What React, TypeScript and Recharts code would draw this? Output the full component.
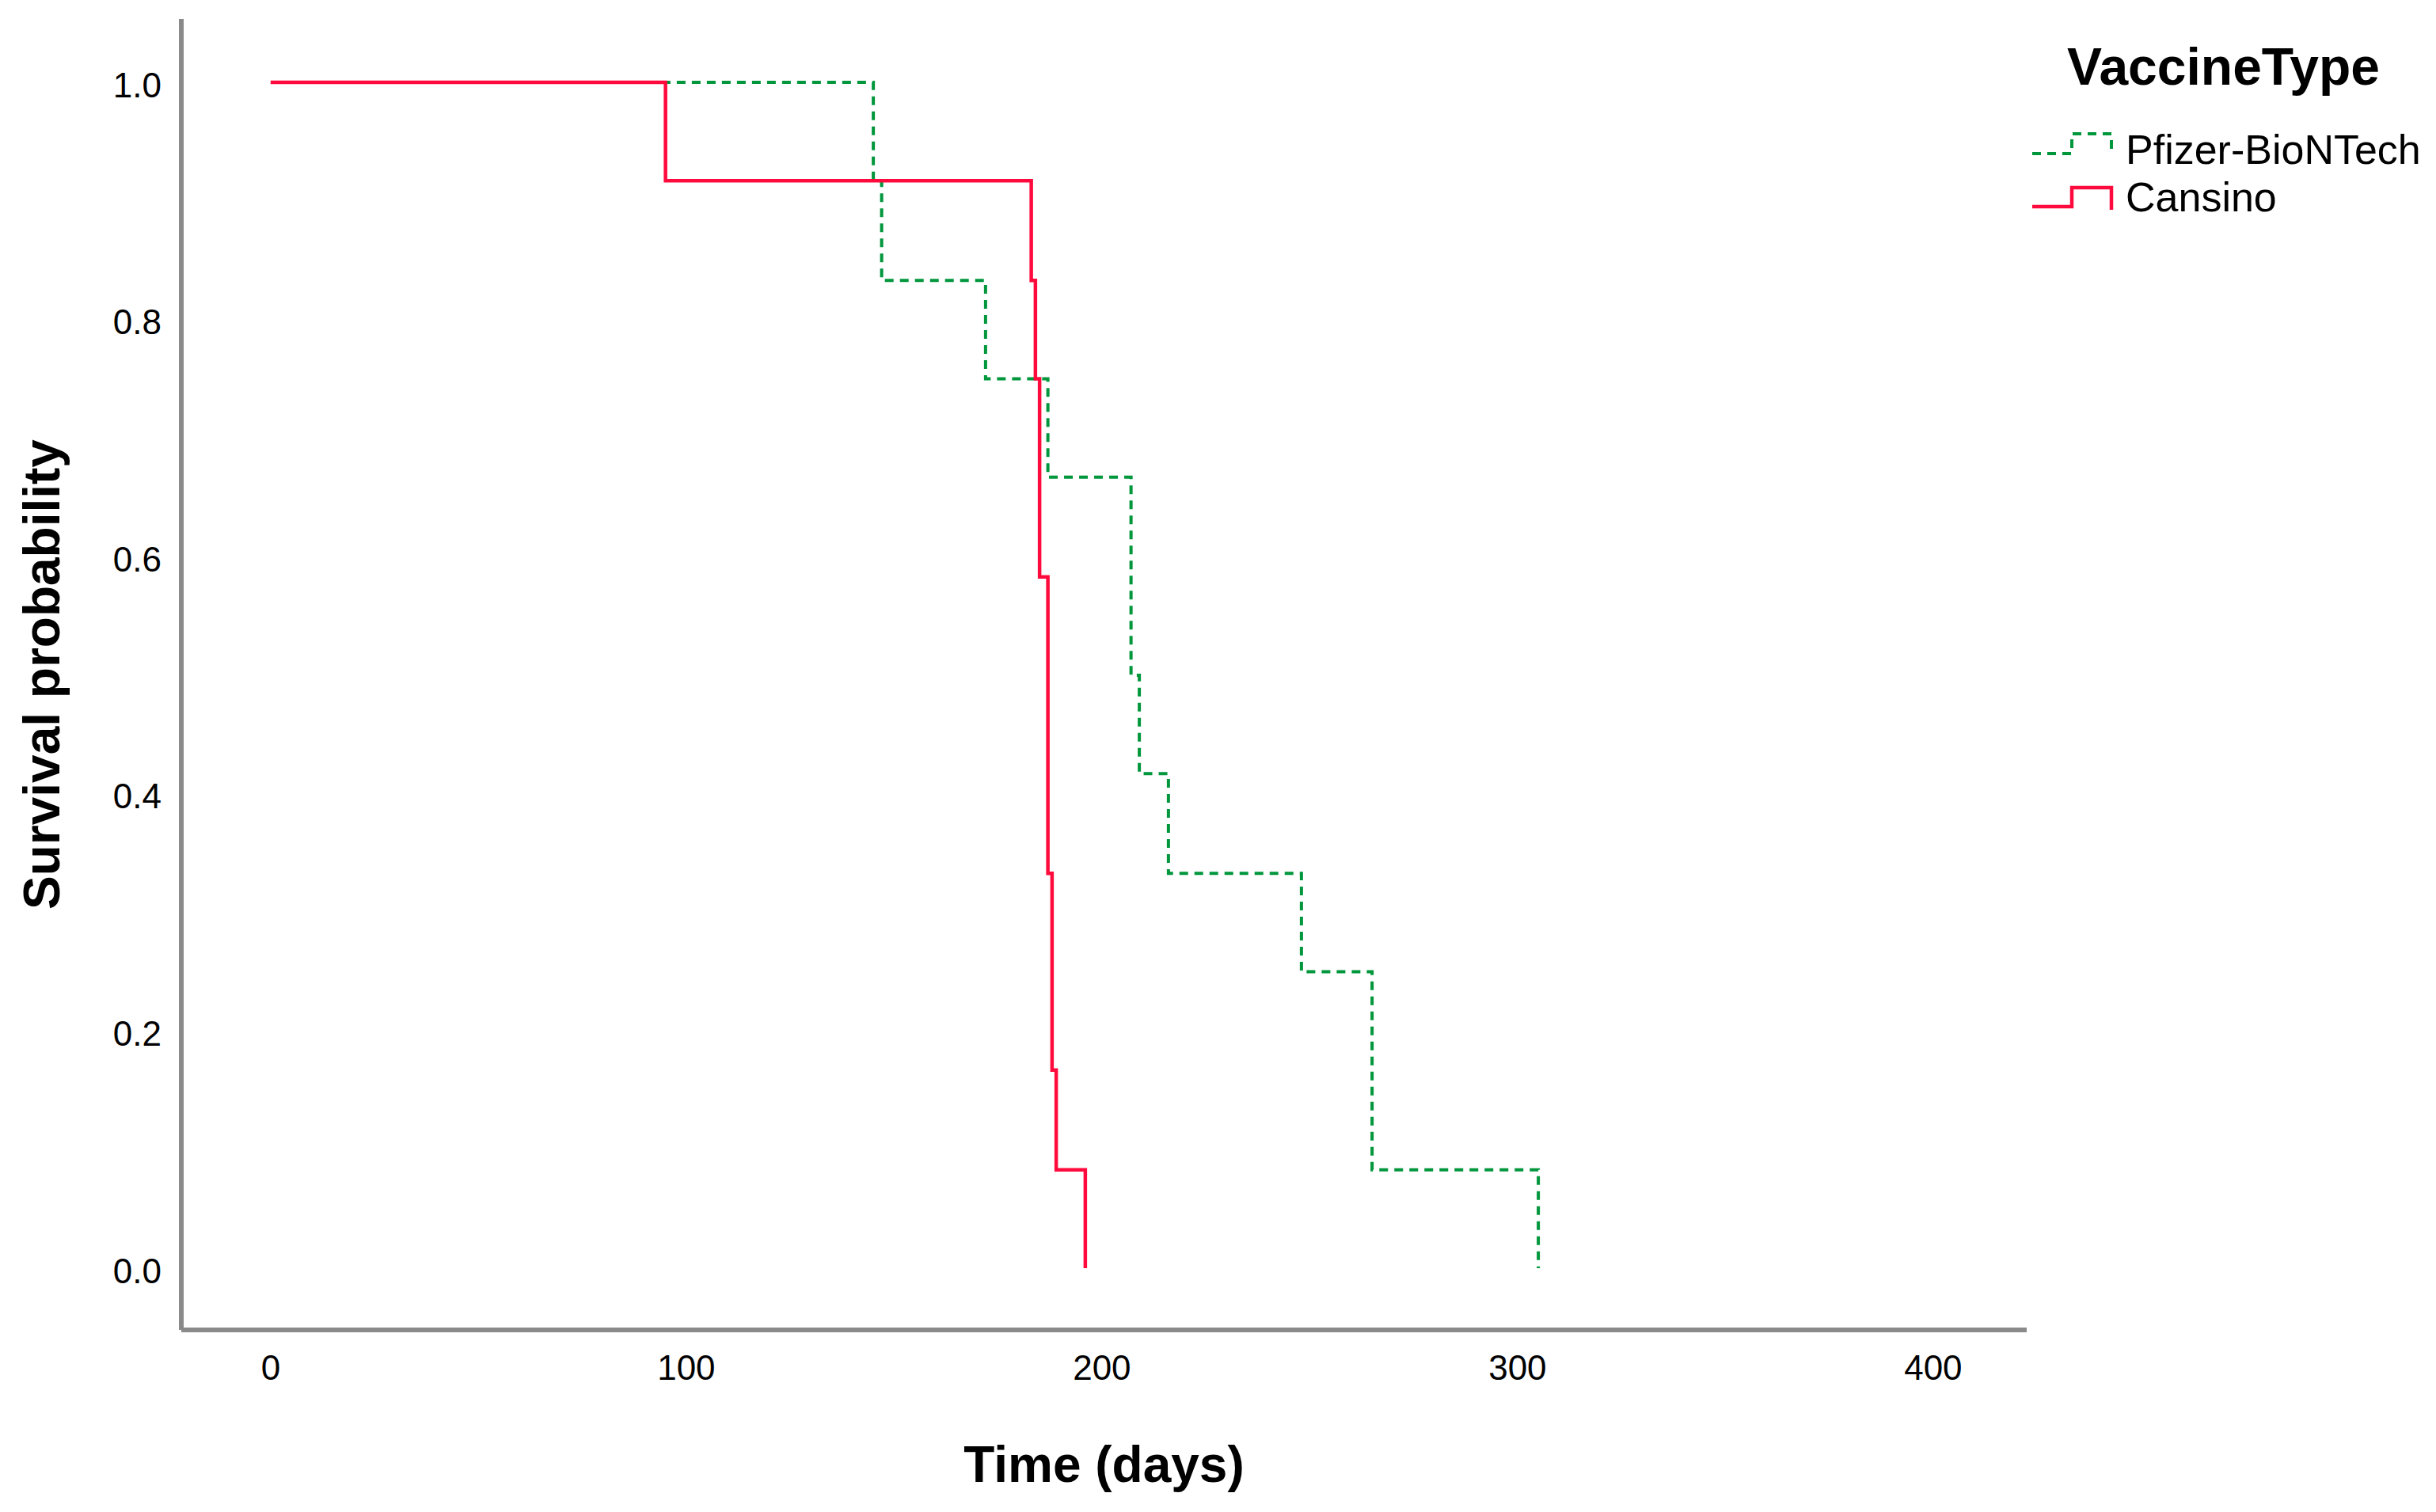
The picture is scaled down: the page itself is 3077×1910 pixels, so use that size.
import React from 'react';
import { LineChart, Line, XAxis, YAxis, Legend, Label } from 'recharts';

// ---- data ----
const pfizerDays = [0, 145, 147, 172, 187, 207, 209, 216, 248, 265, 305];
const pfizerSurvival = [1.0, 0.917, 0.833, 0.75, 0.667, 0.5, 0.417, 0.333, 0.25, 0.083, 0.0];
const cansinoDays = [0, 95, 183, 184, 185, 187, 188, 189, 196];
const cansinoSurvival = [1.0, 0.917, 0.833, 0.75, 0.583, 0.333, 0.167, 0.083, 0.0];
const xTicks = [0, 100, 200, 300, 400];
const yTicks = [0, 0.2, 0.4, 0.6, 0.8, 1.0];
const seriesNames = ['Pfizer-BioNTech', 'Cansino'];
const legendTitle = 'VaccineType';
const xTitle = 'Time (days)';
const yTitle = 'Survival probability';

const pfizerData = pfizerDays.map((t, i) => ({ t, s: pfizerSurvival[i] }));
const cansinoData = cansinoDays.map((t, i) => ({ t, s: cansinoSurvival[i] }));

const FONT = '"Liberation Sans", Arial, sans-serif';
const GREEN = '#00963c';
const RED = '#ff0a3c';
const AXIS = '#8a8a8a';

const LegendBox = () => (
  <svg width={520} height={270} style={{ display: 'block', overflow: 'visible' }}>
    <text x={63} y={79} fontSize={66} fontWeight="bold" fontFamily={FONT} fill="#000">
      {legendTitle}
    </text>
    <path d="M19 166 H69 V141 H119 V168" fill="none" stroke={GREEN} strokeWidth={4} strokeDasharray="11 8" />
    <text x={137} y={179} fontSize={52} fontFamily={FONT} fill="#000">
      {seriesNames[0]}
    </text>
    <path d="M19 233 H69 V209 H119 V237" fill="none" stroke={RED} strokeWidth={4.5} />
    <text x={137} y={239} fontSize={52} fontFamily={FONT} fill="#000">
      {seriesNames[1]}
    </text>
  </svg>
);

const XTitle = (props: any) => {
  const vb = props.viewBox || { x: 0, y: 0, width: 0, height: 0 };
  return (
    <text
      x={vb.x + vb.width / 2}
      y={vb.y + 192}
      textAnchor="middle"
      fontSize={64}
      fontWeight="bold"
      fontFamily={FONT}
      fill="#000"
    >
      {xTitle}
    </text>
  );
};

const YTitle = (props: any) => {
  const vb = props.viewBox || { x: 0, y: 0, width: 0, height: 0 };
  const cx = 67;
  const cy = vb.y + vb.height / 2;
  return (
    <text
      x={cx}
      y={cy}
      transform={`rotate(-90, ${cx}, ${cy})`}
      textAnchor="middle"
      fontSize={64}
      fontWeight="bold"
      fontFamily={FONT}
      fill="#000"
    >
      {yTitle}
    </text>
  );
};

export default function App() {
  return (
    <div style={{ width: 3061, height: 1894, position: 'relative', fontFamily: FONT }}>
      <LineChart width={3061} height={1894} margin={{ top: 16, right: 509, bottom: 22, left: 0 }}>
        <XAxis
          type="number"
          dataKey="t"
          domain={[-21.5, 422.5]}
          ticks={xTicks}
          interval={0}
          allowDataOverflow
          axisLine={{ stroke: AXIS, strokeWidth: 6 }}
          tickLine={false}
          tickSize={6}
          tickMargin={26}
          tick={{ fill: '#000', fontSize: 44, fontFamily: FONT }}
          height={200}
        >
          <Label content={XTitle} />
        </XAxis>
        <YAxis
          type="number"
          domain={[-0.0521, 1.0534]}
          ticks={yTicks}
          interval={0}
          allowDataOverflow
          axisLine={{ stroke: AXIS, strokeWidth: 6 }}
          tickLine={false}
          tickSize={6}
          tickMargin={19}
          tick={{ fill: '#000', fontSize: 44, fontFamily: FONT, dy: 3 }}
          tickFormatter={(v: number) => v.toFixed(1)}
          width={221}
        >
          <Label content={YTitle} />
        </YAxis>
        <Legend
          layout="vertical"
          align="center"
          verticalAlign="middle"
          content={LegendBox}
          wrapperStyle={{ left: 2540, top: 20, width: 520, height: 270 }}
        />
        <Line
          data={pfizerData}
          dataKey="s"
          name={seriesNames[0]}
          type="stepAfter"
          stroke={GREEN}
          strokeWidth={4}
          strokeDasharray="11 8"
          dot={false}
          activeDot={false}
          isAnimationActive={false}
        />
        <Line
          data={cansinoData}
          dataKey="s"
          name={seriesNames[1]}
          type="stepAfter"
          stroke={RED}
          strokeWidth={4.5}
          dot={false}
          activeDot={false}
          isAnimationActive={false}
        />
      </LineChart>
    </div>
  );
}
